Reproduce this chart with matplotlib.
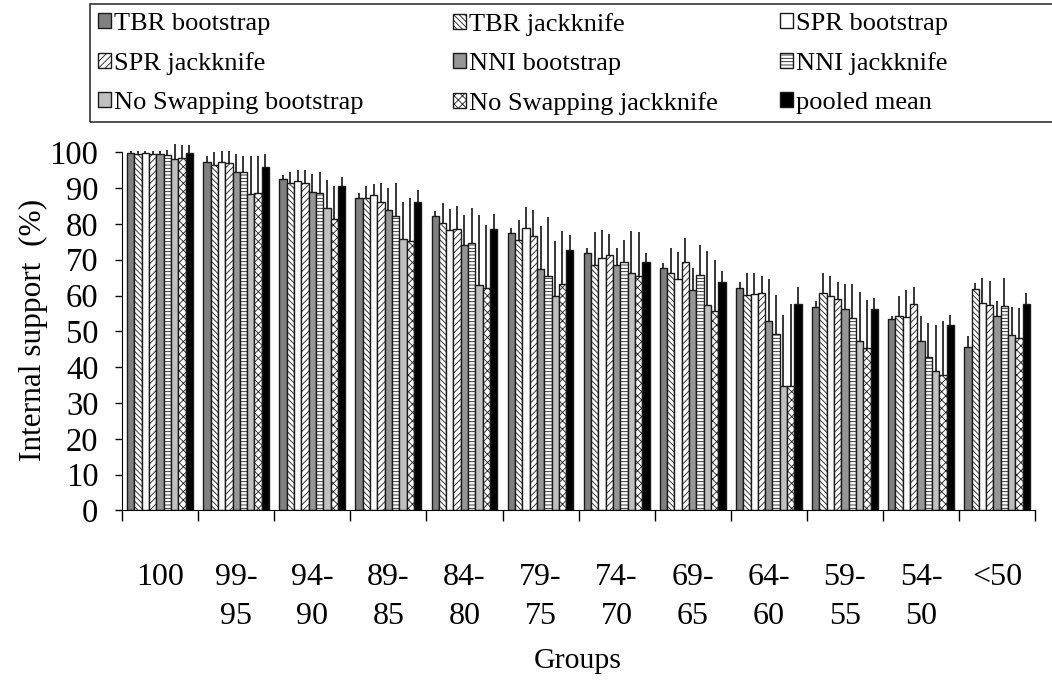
import numpy as np
import matplotlib
matplotlib.use("Agg")
import matplotlib.pyplot as plt
from matplotlib.patches import Rectangle

plt.rcParams['font.family'] = ['Liberation Serif', 'DejaVu Serif']
plt.rcParams['hatch.linewidth'] = 0.6
plt.rcParams['hatch.color'] = 'black'

groups = ["100", "99-\n95", "94-\n90", "89-\n85", "84-\n80", "79-\n75",
          "74-\n70", "69-\n65", "64-\n60", "59-\n55", "54-\n50", "<50"]

series_names = ["TBR bootstrap", "TBR jackknife", "SPR bootstrap",
                "SPR jackknife", "NNI bootstrap", "NNI jackknife",
                "No Swapping bootstrap", "No Swapping jackknife", "pooled mean"]

# mean support per group
tbr_boot = [99.9, 97.4, 92.5, 87.2, 82.2, 77.5, 71.9, 67.8, 62.0, 56.8, 53.5, 45.5]
tbr_jack = [99.6, 96.5, 91.4, 87.2, 80.3, 75.6, 68.6, 66.2, 60.1, 60.8, 54.3, 61.8]
spr_boot = [99.8, 97.2, 92.0, 88.1, 78.4, 78.9, 70.6, 64.6, 60.4, 59.9, 54.1, 58.0]
spr_jack = [99.5, 96.9, 91.5, 86.0, 78.7, 76.5, 71.4, 69.3, 60.8, 58.9, 57.6, 57.3]
nni_boot = [99.4, 94.6, 89.0, 83.9, 74.0, 67.4, 68.6, 61.5, 52.8, 56.2, 47.4, 54.2]
nni_jack = [99.2, 94.6, 88.7, 82.1, 74.8, 65.5, 69.5, 65.7, 49.3, 53.8, 42.7, 57.1]
nosw_boot = [98.1, 88.3, 84.5, 75.9, 62.9, 59.8, 66.3, 57.3, 34.8, 47.2, 38.8, 49.0]
nosw_jack = [98.4, 88.7, 81.4, 75.3, 62.0, 63.1, 65.5, 55.7, 34.8, 45.4, 37.7, 48.2]
pooled = [99.9, 96.0, 90.6, 86.2, 78.6, 72.8, 69.4, 63.9, 57.6, 56.3, 51.7, 57.7]

# upper error (sd)
tbr_boot_err = [0.6, 1.7, 1.2, 1.3, 1.4, 1.4, 1.3, 1.2, 1.7, 1.6, 0.7, 3.3]
tbr_jack_err = [0.9, 3.5, 3.2, 3.4, 5.6, 5.4, 9.1, 7.2, 6.1, 5.4, 5.5, 1.8]
spr_boot_err = [0.7, 3.3, 3.1, 3.0, 5.9, 5.8, 7.8, 7.5, 5.8, 5.6, 7.4, 6.8]
spr_jack_err = [1.0, 3.6, 3.5, 5.3, 6.3, 7.3, 5.9, 6.8, 4.7, 5.0, 4.7, 6.8]
nni_boot_err = [1.1, 4.8, 4.9, 6.2, 8.6, 12.0, 4.8, 6.1, 11.8, 6.9, 6.8, 4.3]
nni_jack_err = [1.5, 4.5, 5.7, 9.4, 9.7, 16.4, 5.9, 8.5, 10.8, 9.4, 9.7, 7.7]
nosw_boot_err = [4.3, 10.8, 7.7, 10.3, 19.6, 15.3, 11.8, 15.0, 19.7, 13.8, 13.1, 7.8]
nosw_jack_err = [3.7, 10.4, 9.2, 12.0, 17.6, 14.8, 12.2, 14.3, 22.9, 13.3, 15.1, 8.3]
pooled_err = [2.1, 3.5, 2.4, 3.2, 4.2, 4.0, 2.6, 3.0, 4.9, 2.9, 2.9, 2.9]

values = [tbr_boot, tbr_jack, spr_boot, spr_jack, nni_boot, nni_jack,
          nosw_boot, nosw_jack, pooled]
errors = [tbr_boot_err, tbr_jack_err, spr_boot_err, spr_jack_err, nni_boot_err,
          nni_jack_err, nosw_boot_err, nosw_jack_err, pooled_err]

fills = ['#808080', 'white', 'white', 'white', '#969696', 'white',
         '#c0c0c0', 'white', 'black']
hatches = [None, '\\\\\\\\\\\\', None, '/////', None, '-----',
           None, 'xxxx', None]

fig = plt.figure(figsize=(10.52, 6.86), dpi=100)
ax = fig.add_axes([0.116, 0.256, 0.868, 0.522])

x = np.arange(len(groups))
w = 0.865 / 9
handles = []
for j in range(9):
    pos = x + (j - 4) * w
    b = ax.bar(pos, values[j], w, color=fills[j], edgecolor='#1a1a1a',
               linewidth=1.0, hatch=hatches[j], zorder=2, label=series_names[j])
    handles.append(b)
    eb = ax.errorbar(pos, values[j], yerr=[np.zeros(len(x)), errors[j]],
                     fmt='none', ecolor='black', elinewidth=1.1, capsize=0,
                     zorder=3)
    for ln in eb.lines[2]:
        ln.set_clip_on(False)

ax.set_xlim(-0.5, len(groups) - 0.5)
ax.set_ylim(0, 100)
ax.set_yticks(np.arange(0, 101, 10))
ax.tick_params(axis='y', labelsize=23.5, length=5, width=1, pad=12)

ax.set_xticks(np.arange(-0.5, len(groups)), labels=[''] * (len(groups) + 1))
ax.tick_params(axis='x', which='major', length=8, width=1)
ax.set_xticks(x, labels=groups, minor=True)
ax.tick_params(axis='x', which='minor', length=0, pad=38, labelsize=23)
for t in ax.get_xticklabels(minor=True):
    t.set_linespacing(1.45)
    t.set_verticalalignment('top')

ax.spines['top'].set_visible(False)
ax.spines['right'].set_visible(False)

fig.text(33 / 1052, 1 - 330 / 686, "Internal support  (%)", rotation=90,
         ha='center', va='center', fontsize=22.5)
fig.text(578 / 1052, 1 - 661 / 686, "Groups", ha='center', va='center',
         fontsize=21.5)

# legend: three columns placed like the original (row-wise order)
col_x = [98, 453, 780]
for c in range(3):
    idx = [c, c + 3, c + 6]
    fig.legend([handles[i] for i in idx], [series_names[i] for i in idx],
               ncol=1, loc='upper left',
               bbox_to_anchor=(col_x[c] / 1052, 1 - 13 / 686),
               frameon=False, fontsize=19, handlelength=0.5, handleheight=0.5,
               handletextpad=0.1, labelspacing=0.65,
               borderpad=0, borderaxespad=0)

fig.add_artist(Rectangle((90 / 1052, 1 - 122 / 686), 980 / 1052, 118 / 686,
                         transform=fig.transFigure, fill=False, lw=1.2,
                         edgecolor='#333333', clip_on=False))

fig.savefig("out.png", dpi=100)
